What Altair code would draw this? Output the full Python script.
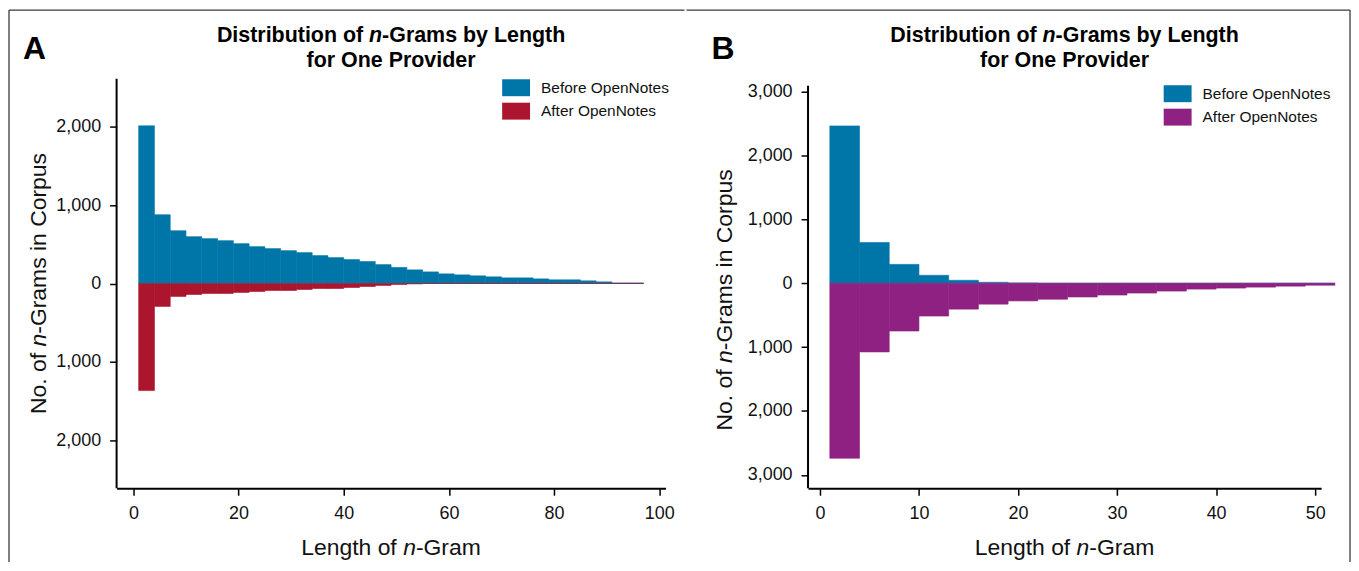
import altair as alt
import pandas as pd

FONT = "Liberation Sans, Arial, Helvetica, sans-serif"

series = ["Before OpenNotes", "After OpenNotes"]

# Panel A: bins of width 3 starting at length 1
a_bin_start = [1, 4, 7, 10, 13, 16, 19, 22, 25, 28, 31, 34, 37, 40, 43, 46,
               49, 52, 55, 58, 61, 64, 67, 70, 73, 76, 79, 82, 85, 88, 91, 94]
a_before = [2010, 877, 673, 597, 572, 546, 508, 470, 445, 419, 394, 356, 330, 305, 280, 241,
            205, 174, 148, 123, 110, 98, 85, 72, 72, 59, 47, 47, 34, 21, 8, 8]
a_after = [1365, 292, 165, 140, 127, 127, 114, 102, 89, 89, 76, 64, 64, 51, 38, 25,
           13, 5, 0, 0, 0, 0, 0, 0, 0, 0, 0, 0, 0, 0, 0, 0]

# Panel B
b_bin_start = [1, 4, 7, 10, 13, 16, 19, 22, 25, 28, 31, 34, 37, 40, 43, 46, 49]
b_before = [2465, 640, 296, 125, 47, 15, 5, 0, 0, 0, 0, 0, 0, 0, 0, 0, 0]
b_after = [2740, 1075, 748, 514, 405, 327, 276, 250, 215, 184, 153, 122, 91, 75, 60, 45, 30]

bin_width = 3
a_colors = ["#0076A8", "#AB152E"]
b_colors = ["#0076A8", "#8E2181"]

a_xticks = [0, 20, 40, 60, 80, 100]
a_yticks = [-2000, -1000, 0, 1000, 2000]
b_xticks = [0, 10, 20, 30, 40, 50]
b_yticks = [-3000, -2000, -1000, 0, 1000, 2000, 3000]

# Text pieces (the "n" is set in italics)
title1 = ["Distribution of", "n", "-Grams by Length"]
title2 = "for One Provider"
ytitle = ["No. of", "n", "-Grams in Corpus"]
xtitle = ["Length of", "n", "-Gram"]


def long_df(starts, before, after):
    rows = []
    for s, b, a in zip(starts, before, after):
        rows.append(dict(start=s, end=s + bin_width, value=b, zero=0, series=series[0]))
        rows.append(dict(start=s, end=s + bin_width, value=-a, zero=0, series=series[1]))
    return pd.DataFrame(rows)


one = pd.DataFrame({"k": [0]})
FRAME = "#3a3a3a"


def rule_v(x, y1, y2, w=1.3):
    return alt.Chart(one).mark_rule(color=FRAME, strokeWidth=w).encode(
        x=alt.value(x), y=alt.value(y1), y2=alt.value(y2))


def rule_h(x1, x2, y, w=1.3):
    return alt.Chart(one).mark_rule(color=FRAME, strokeWidth=w).encode(
        x=alt.value(x1), x2=alt.value(x2), y=alt.value(y))


def txt(s, x, y, size, weight="normal", style="normal", align="left",
        baseline="alphabetic", angle=0, color="black"):
    return alt.Chart(pd.DataFrame({"t": [s]})).mark_text(
        font=FONT, fontSize=size, fontWeight=weight, fontStyle=style,
        align=align, baseline=baseline, angle=angle, color=color).encode(
        text="t:N", x=alt.value(x), y=alt.value(y))


def titles(cx, ytx, ycy, height):
    # chart title (bold 21.5px, Arial metrics)
    t = [
        txt(title1[0], cx - 28.05, -37, 21.5, "bold", align="right"),
        txt(title1[1], cx - 22.1, -37, 21.5, "bold", "italic"),
        txt(title1[2], cx - 9.0, -37, 21.5, "bold"),
        txt(title2, cx, -12, 21.5, "bold", align="center"),
    ]
    # y-axis title, rotated, reading upwards (23px)
    t += [
        txt(ytitle[0], ytx, ycy + 131.0, 23, angle=270, color="#111"),
        txt(ytitle[1], ytx, ycy + 63.2, 23, style="italic", angle=270, color="#111"),
        txt(ytitle[2], ytx, ycy + 50.4, 23, angle=270, color="#111"),
    ]
    # x-axis title (23px)
    yb = height + 67
    t += [
        txt(xtitle[0], cx - 90.2, yb, 23, color="#111"),
        txt(xtitle[1], cx + 12.1, yb, 23, style="italic", color="#111"),
        txt(xtitle[2], cx + 24.9, yb, 23, color="#111"),
    ]
    return t


def panel(df, colors, xdom, xticks, ydom, yticks, width, height,
          legend_x, legend_y, letter, letter_x, frames, ydomain_span,
          ytx, ycy):
    bars = alt.Chart(df).mark_rect(clip=False, strokeWidth=0.6).encode(
        x=alt.X("start:Q",
                scale=alt.Scale(domain=xdom, nice=False, zero=False),
                axis=alt.Axis(values=xticks, title=None, format="d", labelFlush=False)),
        x2="end:Q",
        y=alt.Y("value:Q",
                scale=alt.Scale(domain=ydom, nice=False, zero=False),
                axis=alt.Axis(values=yticks, domain=False, title=None, labelFlush=False,
                              labelExpr="format(abs(datum.value), ',')")),
        y2="zero:Q",
        color=alt.Color("series:N",
                        scale=alt.Scale(domain=series, range=colors),
                        legend=alt.Legend(
                            orient="none", legendX=legend_x, legendY=legend_y,
                            title=None,
                            symbolType="M-1.4,-0.85H1.4V0.85H-1.4Z",
                            symbolSize=400, symbolStrokeWidth=0, symbolOpacity=1,
                            labelFont=FONT, labelFontSize=15.5, labelColor="#111",
                            labelOffset=15, rowPadding=4.5)),
        stroke=alt.Stroke("series:N",
                          scale=alt.Scale(domain=series, range=colors),
                          legend=None),
    )
    ydomain_rule = alt.Chart(one).mark_rule(color="black", strokeWidth=2).encode(
        x=alt.value(0), y=alt.datum(ydomain_span[0]), y2=alt.datum(ydomain_span[1]))
    letter_mark = txt(letter, letter_x, -20, 32, "bold")
    layers = [bars, ydomain_rule, letter_mark] + frames + titles(width / 2, ytx, ycy, height)
    return alt.layer(*layers).properties(width=width, height=height)


chart_a = panel(long_df(a_bin_start, a_before, a_after), a_colors,
                [-3.2, 101.2], a_xticks, [-2610, 2610], a_yticks, 551, 411,
                391, -1, "A", -94,
                [rule_v(-108, -69, 485), rule_h(-108, 570, -69)],
                [-2610, 2610], -71, 205.5)

chart_b = panel(long_df(b_bin_start, b_before, b_after), b_colors,
                [-1.2, 50.6], b_xticks, [-3210, 3203], b_yticks, 515, 411,
                361, 5, "B", -97,
                [rule_v(544, -69, 485), rule_h(-122, 544, -69)],
                [-3210, 3095], -76, 222)

chart = alt.hconcat(chart_a, chart_b, spacing=0).resolve_scale(
    color="independent", stroke="independent", x="independent", y="independent"
).properties(padding=0).configure_view(stroke=None).configure_axis(
    grid=False, domainColor="black", domainWidth=2, tickColor="black",
    tickWidth=1.5, tickSize=7, labelFont=FONT, labelFontSize=18,
    labelColor="#111", labelPadding=9,
).configure_legend(padding=0)

chart.save("out.html", embed_options={"renderer": "svg", "actions": False})
